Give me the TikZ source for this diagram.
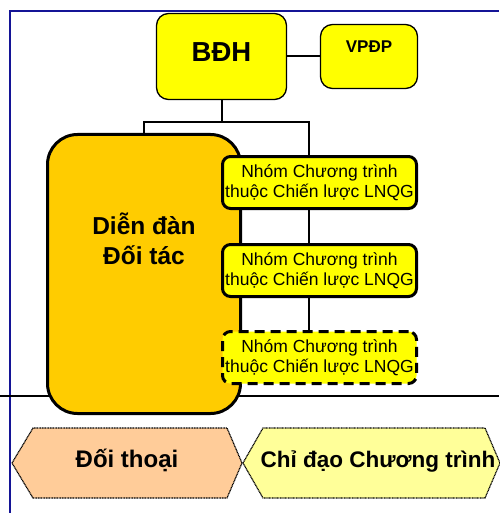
\documentclass[tikz,border=0pt]{standalone}
\usepackage{fontspec}
\setmainfont{Liberation Sans}
\usepackage{tikz}
\usetikzlibrary{positioning}

\definecolor{boxyellow}{RGB}{255,255,0}
\definecolor{forumgold}{RGB}{255,204,0}
\definecolor{peach}{RGB}{255,204,153}
\definecolor{paleyellow}{RGB}{255,255,153}
\definecolor{framenavy}{RGB}{20,20,150}

\tikzset{
  topbox/.style={draw, line width=1.3pt, fill=boxyellow, rounded corners=12pt, inner sep=0pt},
  groupbox/.style={draw, line width=3pt, fill=boxyellow, rounded corners=8pt,
    minimum width=194pt, minimum height=52pt, inner sep=0pt, align=center,
    font=\fontsize{17.5}{20.5}\selectfont},
  link/.style={line width=2pt},
  tagshape/.style={draw=black, dash pattern=on 1pt off 0.6pt, line width=1.2pt},
  tagfont/.style={font=\fontsize{24}{28}\selectfont\bfseries}
}

\begin{document}
\begin{tikzpicture}[x=1pt,y=-1pt]
        \useasboundingbox (0,0) rectangle (499,513);

        % Frame and divider
        \draw[framenavy, line width=2.5pt] (10,513) -- (10,11) -- (499,11);
        \draw[line width=1.5pt] (0,396) -- (499,396);

        % Forum box
        \node[draw, line width=3pt, fill=forumgold, rounded corners=30pt,
              minimum width=193pt, minimum height=279pt] (forum) at (144,274) {};
        \node[align=center, font=\fontsize{24.5}{30}\selectfont\bfseries]
              (forumtext) at ([yshift=35.5pt]forum.center) {Diễn đàn\\Đối tác};

        % Programme groups
        \node[groupbox] (group1) at (319.5,182.5) {Nhóm Chương trình\\thuộc Chiến lược LNQG};
        \node[groupbox, below=33pt of group1] (group2) {Nhóm Chương trình\\thuộc Chiến lược LNQG};
        \node[groupbox, dash pattern=on 10pt off 6pt, below=32pt of group2] (group3) {Nhóm Chương trình\\thuộc Chiến lược LNQG};

        % Board and office
        \node[topbox, minimum width=130pt, minimum height=86pt, text depth=9pt,
              font=\fontsize{27.5}{32}\selectfont\bfseries] (bdh) at (221.5,56.5) {BĐH};
        \node[topbox, minimum width=97pt, minimum height=64pt] (vpdp) at (369,56.5) {};
        \node[font=\fontsize{17}{20}\selectfont\bfseries] (vpdptext) at ([yshift=9.5pt]vpdp.center) {VPĐP};

        % Connectors
        \coordinate (bus) at (221.5,122);
        \draw[link] (bdh) -- (vpdp);
        \draw[link] (bdh) -- (bus);
        \draw[link] (forum.north) |- (bus) -| ([xshift=-10.5pt]group1.north);
        \draw[link] ([xshift=-10.5pt]group1.south) -- ([xshift=-10.5pt]group2.north);
        \draw[link] ([xshift=-10.5pt]group2.south) -- ([xshift=-10.5pt]group3.north);

        % Bottom tags
        \draw[tagshape, fill=peach] (12,463) -- (33,428) -- (227,428) -- (242,463) -- (227,498) -- (33,498) -- cycle;
        \node[tagfont] (dialogue) at (127,460) {Đối thoại};
        \draw[tagshape, fill=paleyellow] (243,463) -- (263,428) -- (485,428) -- (500,463) -- (485,498) -- (263,498) -- cycle;
        \node[tagfont, font=\fontsize{22.5}{26}\selectfont\bfseries] (steering) at (378,461) {Chỉ đạo Chương trình};
    \end{tikzpicture}
\end{document}
